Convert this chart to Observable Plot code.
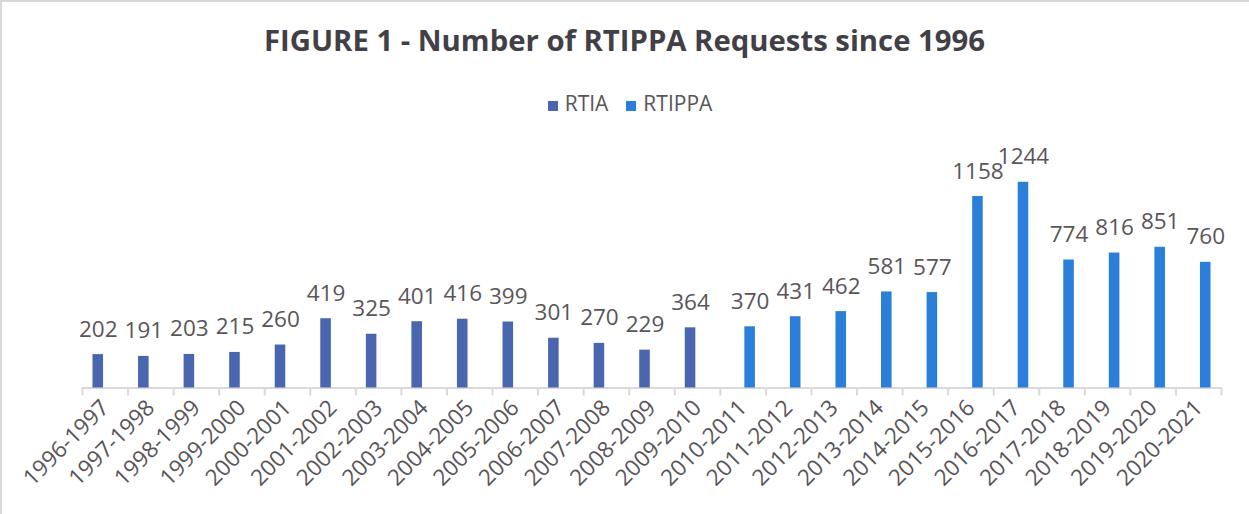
<!DOCTYPE html>
<html>
<head>
<meta charset="utf-8">
<script src="https://cdn.jsdelivr.net/npm/d3@7"></script>
<script src="https://cdn.jsdelivr.net/npm/@observablehq/plot@0.6"></script>
<style>
  html, body { margin: 0; padding: 0; background: #fff; }
  #chart {
    position: relative; width: 1249px; height: 514px; overflow: hidden;
    background: #fff; box-shadow: inset 2px 2px 0 #d9d9d9;
    font-family: "Open Sans", sans-serif;
  }
  #title {
    position: absolute; left: 0; top: 20px; width: 1249px; text-align: center;
    font-size: 29.3px; font-weight: 700; color: #433f46; line-height: normal;
  }
  #legend {
    position: absolute; left: 0; top: 89px; width: 1249px;
    display: flex; justify-content: center; padding-left: 11px; box-sizing: border-box;
    font-size: 21px; color: #595559; line-height: normal;
  }
  .item { display: flex; align-items: center; margin: 0 9px; }
  .sw { width: 10px; height: 10px; margin-right: 7px; margin-top: 6px; }
  #plot { position: absolute; left: 0; top: 130px; }
</style>
</head>
<body>
<div id="chart">
  <div id="title">FIGURE 1 - Number of RTIPPA Requests since 1996</div>
  <div id="legend"></div>
  <div id="plot"></div>
</div>
<script>
// ---- data ----
const periods = ["1996-1997","1997-1998","1998-1999","1999-2000","2000-2001","2001-2002","2002-2003",
  "2003-2004","2004-2005","2005-2006","2006-2007","2007-2008","2008-2009","2009-2010","2010-2011",
  "2011-2012","2012-2013","2013-2014","2014-2015","2015-2016","2016-2017","2017-2018","2018-2019",
  "2019-2020","2020-2021"];
const rtiaPeriods = periods.slice(0, 14);
const rtiaValues = [202, 191, 203, 215, 260, 419, 325, 401, 416, 399, 301, 270, 229, 364];
const rtippaPeriods = periods.slice(14);
const rtippaValues = [370, 431, 462, 581, 577, 1158, 1244, 774, 816, 851, 760];
const seriesNames = ["RTIA", "RTIPPA"];
const seriesColors = ["#4a66ae", "#2b7fd8"];

const rtiaRows = rtiaPeriods.map((p, i) => ({period: p, series: "RTIA", value: rtiaValues[i]}));
const rtippaRows = rtippaPeriods.map((p, i) => ({period: p, series: "RTIPPA", value: rtippaValues[i]}));

// ---- legend ----
const legend = document.getElementById("legend");
seriesNames.forEach((s, i) => {
  const it = document.createElement("div"); it.className = "item";
  const sw = document.createElement("div"); sw.className = "sw"; sw.style.background = seriesColors[i];
  const tx = document.createElement("span"); tx.textContent = s;
  it.appendChild(sw); it.appendChild(tx); legend.appendChild(it);
});

// ---- layout ----
const W = 1249, H = 384, ML = 82, MR = 28;
const bw = (W - ML - MR) / periods.length;   // category band width
const off = bw * 0.154;                       // cluster offset of each series
const hw = bw * 0.116;                        // half bar width
const inA = {insetLeft: bw / 2 - off - hw, insetRight: bw / 2 + off - hw};
const inB = {insetLeft: bw / 2 + off - hw, insetRight: bw / 2 - off - hw};
const textColor = "#595559";
const gridColor = "#d9d9d9";

const chart = Plot.plot({
  width: W, height: H,
  marginLeft: ML, marginRight: MR, marginTop: 26, marginBottom: 126.5,
  style: {fontFamily: "Open Sans, sans-serif", color: textColor, background: "transparent"},
  x: {domain: periods, padding: 0, round: false},
  y: {domain: [0, 1400], axis: null},
  color: {domain: seriesNames, range: seriesColors},
  marks: [
    Plot.ruleY([0], {stroke: gridColor, strokeWidth: 2}),
    Plot.axisX({ticks: periods, tickSize: 8, tickFormat: () => "", dx: -bw / 2, stroke: gridColor, strokeWidth: 2, label: null}),
    Plot.axisX({ticks: [periods[periods.length - 1]], tickSize: 8, tickFormat: () => "", dx: bw / 2, stroke: gridColor, strokeWidth: 2, label: null}),
    Plot.axisX({tickRotate: -45, tickSize: 0, tickPadding: 16, fontSize: 22.5, fill: textColor, label: null}),
    Plot.barY(rtiaRows, {x: "period", y: "value", fill: "series", ...inA}),
    Plot.barY(rtippaRows, {x: "period", y: "value", fill: "series", ...inB}),
    Plot.text(rtiaRows, {x: "period", y: "value", text: d => String(d.value), dx: -off, dy: -18, lineAnchor: "bottom", fontSize: 22.5, fill: textColor}),
    Plot.text(rtippaRows, {x: "period", y: "value", text: d => String(d.value), dx: off, dy: -18, lineAnchor: "bottom", fontSize: 22.5, fill: textColor})
  ]
});
document.getElementById("plot").appendChild(chart);
</script>
</body>
</html>
